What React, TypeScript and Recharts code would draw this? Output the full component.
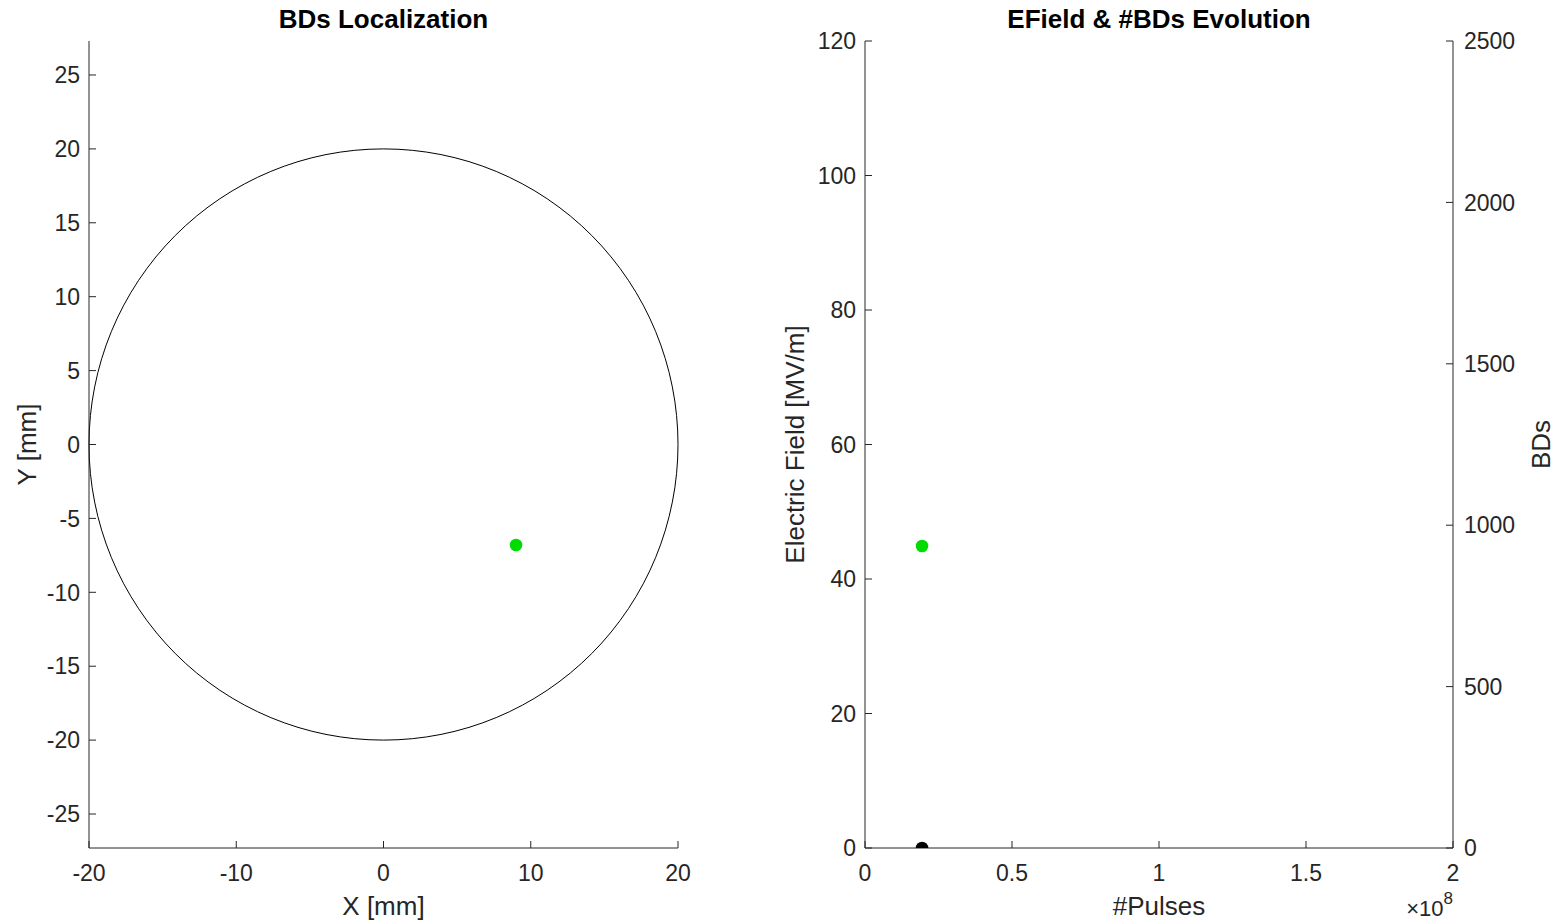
import React from 'react';
import { ScatterChart, Scatter, XAxis, YAxis, ReferenceArea } from 'recharts';

// ---------- data ----------
// Left panel: BDs Localization
const locXTicks = [-20, -10, 0, 10, 20];
const locYTicks = [-25, -20, -15, -10, -5, 0, 5, 10, 15, 20, 25];
const locXDomain: [number, number] = [-20, 20];
const locYDomain: [number, number] = [-27.3, 27.3];
const boundaryRadius = 20; // structure boundary (mm)
const bdPositions = [{ x: 9.0, y: -6.8 }];

// Right panel: EField & #BDs Evolution
const pulseTicks = [0, 0.5e8, 1e8, 1.5e8, 2e8];
const efieldTicks = [0, 20, 40, 60, 80, 100, 120];
const bdCountTicks = [0, 500, 1000, 1500, 2000, 2500];
const efieldPoints = [{ pulses: 1.94e7, efield: 44.9 }];
const bdCountPoints = [{ pulses: 1.94e7, bds: 0 }];

// ---------- style ----------
const AXIS = '#262626';
const FONT = '"Liberation Sans", Arial, Helvetica, sans-serif';
const TICK_FS = 23;
const LABEL_FS = 26;
const TITLE_FS = 26;
const GREEN = '#00DC00';

const LeftTick = (props: any) => {
  const { x, y, payload } = props;
  return (
    <g>
      <line x1={x} y1={y} x2={x + 7} y2={y} stroke={AXIS} strokeWidth={1} />
      <text x={x - 9} y={y} dy="0.36em" textAnchor="end" fontSize={TICK_FS} fill={AXIS} fontFamily={FONT}>
        {payload.value}
      </text>
    </g>
  );
};

const RightTick = (props: any) => {
  const { x, y, payload } = props;
  return (
    <g>
      <line x1={x} y1={y} x2={x - 7} y2={y} stroke={AXIS} strokeWidth={1} />
      <text x={x + 11} y={y} dy="0.36em" textAnchor="start" fontSize={TICK_FS} fill={AXIS} fontFamily={FONT}>
        {payload.value}
      </text>
    </g>
  );
};

const makeBottomTick = (fmt: (v: number) => string) => (props: any) => {
  const { x, y, payload } = props;
  return (
    <g>
      <line x1={x} y1={y} x2={x} y2={y - 7} stroke={AXIS} strokeWidth={1} />
      <text x={x} y={y + 25} dy="0.36em" textAnchor="middle" fontSize={TICK_FS} fill={AXIS} fontFamily={FONT}>
        {fmt(payload.value)}
      </text>
    </g>
  );
};

const locBottomTick = makeBottomTick((v) => String(v));
const pulseBottomTick = makeBottomTick((v) => String(v / 1e8));

const yLabel = (text: string, fromLeft: boolean, dx: number) => (props: any) => {
  const vb = props.viewBox || { x: 0, y: 0, width: 0, height: 0 };
  const axisX = fromLeft ? vb.x + vb.width : vb.x;
  const cx = axisX + dx;
  const cy = vb.y + vb.height / 2;
  return (
    <text
      x={cx}
      y={cy}
      transform={`rotate(-90 ${cx} ${cy})`}
      textAnchor="middle"
      dy="0.36em"
      fontSize={LABEL_FS}
      fill={AXIS}
      fontFamily={FONT}
    >
      {text}
    </text>
  );
};

const xLabel = (text: string, exponent?: string) => (props: any) => {
  const vb = props.viewBox || { x: 0, y: 0, width: 0, height: 0 };
  return (
    <g>
      <text
        x={vb.x + vb.width / 2}
        y={vb.y + 67}
        textAnchor="middle"
        fontSize={LABEL_FS}
        fill={AXIS}
        fontFamily={FONT}
      >
        {text}
      </text>
      {exponent ? (
        <text x={vb.x + vb.width} y={vb.y + 68} textAnchor="end" fontSize={22} fill={AXIS} fontFamily={FONT}>
          {'\u00D710'}
          <tspan dy={-12} fontSize={17}>
            {exponent}
          </tspan>
        </text>
      ) : null}
    </g>
  );
};

const BoundaryShape = (props: any) => {
  const { x, y, width, height } = props;
  return (
    <ellipse
      cx={x + width / 2}
      cy={y + height / 2}
      rx={Math.abs(width) / 2}
      ry={Math.abs(height) / 2}
      fill="none"
      stroke="#000000"
      strokeWidth={1}
    />
  );
};

const dot = (color: string) => (props: any) => <circle cx={props.cx} cy={props.cy} r={6.3} fill={color} />;

const titleStyle = (left: number, width: number): React.CSSProperties => ({
  position: 'absolute',
  left,
  top: 6,
  width,
  textAlign: 'center',
  fontFamily: FONT,
  fontWeight: 'bold',
  fontSize: TITLE_FS,
  lineHeight: `${TITLE_FS}px`,
  color: '#000',
  whiteSpace: 'nowrap',
});

export default function App() {
  return (
    <div
      style={{
        position: 'absolute',
        left: 0,
        top: 0,
        width: 1560,
        height: 923,
        background: '#ffffff',
        overflow: 'hidden',
      }}
    >
      <div style={titleStyle(89, 589)}>BDs Localization</div>
      <div style={titleStyle(865, 588)}>EField &amp; #BDs Evolution</div>

      {/* Left panel */}
      <div style={{ position: 'absolute', left: 0, top: 0 }}>
        <ScatterChart width={760} height={923} margin={{ top: 41, right: 82, bottom: 0, left: 29 }}>
          <XAxis
            type="number"
            dataKey="x"
            domain={locXDomain}
            ticks={locXTicks}
            allowDataOverflow
            height={75}
            tickSize={0}
            tickMargin={0}
            tickLine={false}
            axisLine={{ stroke: AXIS, strokeWidth: 1 }}
            tick={locBottomTick}
            interval={0}
            label={{ content: xLabel('X [mm]') }}
          />
          <YAxis
            type="number"
            dataKey="y"
            domain={locYDomain}
            ticks={locYTicks}
            allowDataOverflow
            width={60}
            tickSize={0}
            tickMargin={0}
            tickLine={false}
            axisLine={{ stroke: AXIS, strokeWidth: 1 }}
            tick={LeftTick}
            interval={0}
            label={{ content: yLabel('Y [mm]', true, -62) }}
          />
          <ReferenceArea
            x1={-boundaryRadius}
            x2={boundaryRadius}
            y1={-boundaryRadius}
            y2={boundaryRadius}
            ifOverflow="visible"
            shape={BoundaryShape}
          />
          <Scatter data={bdPositions} isAnimationActive={false} shape={dot(GREEN)} />
        </ScatterChart>
      </div>

      {/* Right panel */}
      <div style={{ position: 'absolute', left: 760, top: 0 }}>
        <ScatterChart width={800} height={923} margin={{ top: 41, right: 47, bottom: 0, left: 45 }}>
          <XAxis
            type="number"
            dataKey="pulses"
            domain={[0, 2e8]}
            ticks={pulseTicks}
            allowDataOverflow
            height={75}
            tickSize={0}
            tickMargin={0}
            tickLine={false}
            axisLine={{ stroke: AXIS, strokeWidth: 1 }}
            tick={pulseBottomTick}
            interval={0}
            label={{ content: xLabel('#Pulses', '8') }}
          />
          <YAxis
            yAxisId="left"
            type="number"
            dataKey="efield"
            domain={[0, 120]}
            ticks={efieldTicks}
            allowDataOverflow
            width={60}
            tickSize={0}
            tickMargin={0}
            tickLine={false}
            axisLine={{ stroke: AXIS, strokeWidth: 1 }}
            tick={LeftTick}
            interval={0}
            label={{ content: yLabel('Electric Field [MV/m]', true, -70) }}
          />
          <YAxis
            yAxisId="right"
            orientation="right"
            type="number"
            dataKey="bds"
            domain={[0, 2500]}
            ticks={bdCountTicks}
            allowDataOverflow
            width={60}
            tickSize={0}
            tickMargin={0}
            tickLine={false}
            axisLine={{ stroke: AXIS, strokeWidth: 1 }}
            tick={RightTick}
            interval={0}
            label={{ content: yLabel('BDs', false, 88) }}
          />
          <Scatter yAxisId="left" data={efieldPoints} dataKey="efield" isAnimationActive={false} shape={dot(GREEN)} />
          <Scatter yAxisId="right" data={bdCountPoints} dataKey="bds" isAnimationActive={false} shape={dot('#000000')} />
        </ScatterChart>
      </div>
    </div>
  );
}
